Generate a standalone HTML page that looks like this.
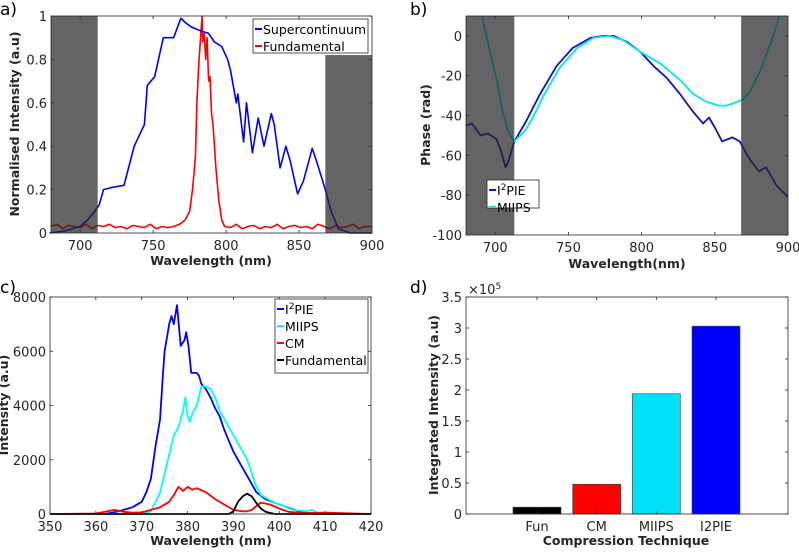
<!DOCTYPE html>
<html><head><meta charset="utf-8">
<style>
html,body{margin:0;padding:0;background:#fff;}
svg{display:block;font-family:"DejaVu Sans","Liberation Sans",sans-serif;}
.tk{font-size:13px;fill:#262626;}
.al{font-size:12.5px;font-weight:bold;fill:#262626;}
.lg{font-size:12.5px;fill:#000;}
.pl{font-size:17px;fill:#000;}
</style></head>
<body>
<svg id="fig" width="799" height="553" viewBox="0 0 799 553"></svg>
<script>
// ---------- Panel a data ----------
const scWl  = [679,690,700,705,710,713,716,722,730,737,744,746,751,757,764,769,772,776,783,788,792,797,801,803,807,808,812,814,818,822,826,831,833,837,841,844,849,853,859,862,868,872,877,885,900];
const scVal = [0,0.01,0.03,0.06,0.1,0.13,0.2,0.21,0.22,0.4,0.5,0.68,0.72,0.9,0.9,0.99,0.97,0.95,0.93,0.92,0.88,0.86,0.8,0.75,0.6,0.64,0.42,0.6,0.37,0.53,0.4,0.55,0.5,0.3,0.4,0.33,0.18,0.24,0.39,0.33,0.2,0.1,0.02,0,0];
const fuWl  = [680,684,688,692,696,700,704,708,712,716,720,724,728,732,736,740,744,748,752,756,760,764,768,772,775,777,779,780,781,782,783,783.5,784,785,786,787,788,789,790,791,793,795,797,799,803,807,811,815,819,823,827,831,835,839,843,847,851,855,859,863,867,871,875,879,883,887,891,895,900];
const fuVal = [0.03,0.04,0.02,0.035,0.03,0.025,0.04,0.02,0.035,0.03,0.04,0.025,0.03,0.02,0.035,0.03,0.025,0.04,0.02,0.03,0.025,0.03,0.04,0.06,0.1,0.2,0.35,0.6,0.75,0.85,0.95,1.0,0.88,0.92,0.8,0.9,0.7,0.72,0.55,0.5,0.3,0.15,0.06,0.03,0.025,0.04,0.02,0.03,0.035,0.02,0.03,0.025,0.04,0.02,0.03,0.035,0.025,0.03,0.02,0.04,0.03,0.02,0.035,0.025,0.03,0.04,0.02,0.03,0.03];
const aXTicks = [700,750,800,850,900];
const aYTicks = [0,0.2,0.4,0.6,0.8,1];
const aYLabels = ["0","0.2","0.4","0.6","0.8","1"];
// ---------- Panel b data ----------
const i2Wl  = [680,684,690,695,701,704,707,709,713,721,730,742,753,765,774,781,790,799,808,817,826,835,842,846,850,855,862,867,873,880,885,892,900];
const i2Val = [-45,-44,-50,-49,-52,-58,-66,-63,-53,-43,-30,-15,-6,-1,0,0,-3,-8,-15,-21,-29,-38,-44,-41,-46,-53,-51,-53,-61,-68,-66,-75,-81];
const miWl  = [691,694,697,701,705,709,712,713,717,721,727,733,744,756,767,778,787,799,813,826,835,844,853,858,862,869,874,878,882,885,889,892,894];
const miVal = [10,0,-10,-22,-38,-48,-52,-53,-50,-47,-39,-30,-16,-6,-1,0,-2,-8,-14,-22,-29,-33,-35,-35,-34,-32,-28,-22,-16,-10,-2,5,10];
const bXTicks = [700,750,800,850,900];
const bYTicks = [0,-20,-40,-60,-80,-100];
// ---------- Panel c data ----------
const cI2Wl  = [350,362,365,368,370,371,372,373,374,374.5,375,376,376.5,377,377.7,378.5,379.3,379.7,380.2,380.8,382,382.5,383,384,385,386,387,388,389,390,391,392,393,394,395,397,400,403,405,408,420];
const cI2Val = [0,0,100,250,450,800,1300,2500,3500,4800,6000,7000,7300,7000,7700,6200,6400,6700,6200,5200,5200,5100,4800,4600,4300,3900,3600,3100,2700,2300,2000,1700,1400,1100,800,550,350,170,60,0,0];
const cMiWl  = [350,370,372,374,375,376,377,378,379,379.5,380,380.5,381,382,383,384,385,386,387,388,389,390,391,392,393,394,395,396,398,400,403,406,407,409,420];
const cMiVal = [0,0,100,800,1500,2200,2900,3200,3800,4300,3600,3400,3700,4000,4700,4700,4600,4300,3800,3500,3200,2900,2600,2300,2000,1500,1000,700,500,350,150,100,150,0,0];
const cCmWl  = [350,360,362,364,366,368,370,372,374,376,377,378,379,380,381,382,384,386,388,390,392,393,394,395,396,398,400,402,405,410,412,420];
const cCmVal = [0,20,80,150,80,50,60,150,250,450,700,1000,850,1000,900,950,800,550,350,150,100,100,150,300,420,350,200,80,30,50,40,0];
const cFuWl  = [350,389,390,391,392,393,394,395,396,397,399,420];
const cFuVal = [0,0,100,450,650,750,650,400,200,80,0,0];
const cXTicks = [350,360,370,380,390,400,410,420];
const cYTicks = [0,2000,4000,6000,8000];
// ---------- Panel d data ----------
const dCats = ["Fun","CM","MIIPS","I2PIE"];
const dVals = [0.11,0.48,1.94,3.03];
const dColors = ["#000000","#ff0000","#00e0f8","#0000ff"];
const dYTicks = [0,0.5,1,1.5,2,2.5,3,3.5];
const dYLabels = ["0","0.5","1","1.5","2","2.5","3","3.5"];

const NS="http://www.w3.org/2000/svg";
const svg=document.getElementById('fig');
function mk(tag,attrs,parent,text){const e=document.createElementNS(NS,tag);for(const k in attrs)e.setAttribute(k,attrs[k]);if(text!==undefined)e.textContent=text;(parent||svg).appendChild(e);return e;}
function scale(d0,d1,r0,r1){return v=>r0+(v-d0)*(r1-r0)/(d1-d0);}

function axes(g,box,xs,ys,xt,xl,yt,yl){
  mk('rect',{x:box.x0,y:box.y0,width:box.x1-box.x0,height:box.y1-box.y0,fill:'none',stroke:'#262626','stroke-width':0.8},g);
  xt.forEach((v,i)=>{const x=xs(v);
    mk('line',{x1:x,x2:x,y1:box.y1,y2:box.y1-3,stroke:'#262626','stroke-width':0.8},g);
    mk('line',{x1:x,x2:x,y1:box.y0,y2:box.y0+3,stroke:'#262626','stroke-width':0.8},g);
    const t=mk('text',{x:x,y:box.y1+17,'text-anchor':'middle',class:'tk'},g,xl[i]);
    
    });
  yt.forEach((v,i)=>{const y=ys(v);
    mk('line',{x1:box.x0,x2:box.x0+3,y1:y,y2:y,stroke:'#262626','stroke-width':0.8},g);
    mk('line',{x1:box.x1,x2:box.x1-3,y1:y,y2:y,stroke:'#262626','stroke-width':0.8},g);
    const t=mk('text',{x:box.x0-4,y:y+5,'text-anchor':'end',class:'tk'},g,yl[i]);
    
    });
}
function line(g,xs,ys,X,Y,color,name,w){
  const d=X.map((x,i)=>(i?'L':'M')+xs(x).toFixed(1)+','+ys(Y[i]).toFixed(1)).join('');
  const p=mk('path',{d:d,fill:'none',stroke:color,'stroke-width':w||1.8,'stroke-linejoin':'round'},g);
  
  
  return p;
}
function legend(g,x,y,w,h,items){
  const r=mk('rect',{x:x,y:y,width:w,height:h,fill:'#fff',stroke:'#262626','stroke-width':0.8},g);
  
  
  items.forEach((it,i)=>{const yy=y+10+i*17;
    mk('line',{x1:x+2,x2:x+9,y1:yy,y2:yy,stroke:it[1],'stroke-width':2},g);
    const t=mk('text',{x:x+10,y:yy+5,class:'lg'},g);
    if(it[0]==='I2PIE'){t.textContent='I';mk('tspan',{dy:-5,'font-size':'9px'},t,'2');mk('tspan',{dy:5},t,'PIE');}
    else t.textContent=it[0];
    
    });
}
function label(g,txt,x,y,rot,name){
  const t=mk('text',{x:x,y:y,'text-anchor':'middle',class:'al',transform:rot?`rotate(-90 ${x} ${y})`:''},g,txt);
  
  
}

// ===== Panel a =====
{const g=mk('g',{});
 const box={x0:51,x1:372,y0:16,y1:233};
 const xs=scale(680,900,box.x0,box.x1), ys=scale(0,1,box.y1,box.y0);
 line(g,xs,ys,fuWl,fuVal,'#ff0000','fundamental-line',1.6);
 line(g,xs,ys,scWl,scVal,'#0000ff','supercontinuum-line',1.6);
 mk('rect',{x:xs(680),y:box.y0,width:xs(712)-xs(680),height:box.y1-box.y0,fill:'rgba(40,40,40,0.72)'},g);
 mk('rect',{x:xs(868),y:ys(0.82),width:xs(900)-xs(868),height:box.y1-ys(0.82),fill:'rgba(40,40,40,0.72)'},g);
 axes(g,box,xs,ys,aXTicks,aXTicks.map(String),aYTicks,aYLabels);
 legend(g,253,19,115,34,[['Supercontinuum','#0000ff'],['Fundamental','#ff0000']]);
 label(g,'Wavelength (nm)',211,265,false,'x-axis-title');
 label(g,'Normalised Intensity (a.u)',19,124,true,'y-axis-title');
 mk('text',{x:0,y:15,class:'pl'},g,'a)');
}
// ===== Panel b =====
{const g=mk('g',{});
 const box={x0:466,x1:788,y0:16,y1:235};
 const xs=scale(680,900,box.x0,box.x1), ys=scale(-100,10,box.y1,box.y0);
 const cl=mk('clipPath',{id:'cb'},g);mk('rect',{x:box.x0,y:box.y0,width:box.x1-box.x0,height:box.y1-box.y0},cl);
 const gg=mk('g',{'clip-path':'url(#cb)'},g);
 line(gg,xs,ys,i2Wl,i2Val,'#1010d0','i2pie-phase-line',1.8);
 line(gg,xs,ys,miWl,miVal,'#00e8f0','miips-phase-line',1.8);
 mk('rect',{x:xs(680),y:box.y0,width:xs(713)-xs(680),height:box.y1-box.y0,fill:'rgba(40,40,40,0.72)'},g);
 mk('rect',{x:xs(868),y:box.y0,width:xs(900)-xs(868),height:box.y1-box.y0,fill:'rgba(40,40,40,0.72)'},g);
 axes(g,box,xs,ys,bXTicks,bXTicks.map(String),bYTicks,bYTicks.map(String));
 legend(g,487,180,52,28,[['I2PIE','#1010d0'],['MIIPS','#00e8f0']]);
 label(g,'Wavelength(nm)',627,268,false,'x-axis-title');
 label(g,'Phase (rad)',430,125,true,'y-axis-title');
 mk('text',{x:410,y:15,class:'pl'},g,'b)');
}
// ===== Panel c =====
{const g=mk('g',{});
 const box={x0:50,x1:371,y0:297,y1:514};
 const xs=scale(350,420,box.x0,box.x1), ys=scale(0,8000,box.y1,box.y0);
 line(g,xs,ys,cI2Wl,cI2Val,'#0000ff','i2pie-shg-line',1.8);
 line(g,xs,ys,cMiWl,cMiVal,'#00ffff','miips-shg-line',1.8);
 line(g,xs,ys,cCmWl,cCmVal,'#ff0000','cm-shg-line',1.8);
 line(g,xs,ys,cFuWl,cFuVal,'#000000','fundamental-shg-line',1.8);
 axes(g,box,xs,ys,cXTicks,cXTicks.map(String),cYTicks,cYTicks.map(String));
 legend(g,275,299,93,74,[['I2PIE','#0000ff'],['MIIPS','#00ffff'],['CM','#ff0000'],['Fundamental','#000000']]);
 label(g,'Wavelength (nm)',211,545,false,'x-axis-title');
 label(g,'Intensity (a.u)',8,405,true,'y-axis-title');
 mk('text',{x:0,y:293,class:'pl'},g,'c)');
}
// ===== Panel d =====
{const g=mk('g',{});
 const box={x0:466,x1:788,y0:297,y1:514};
 const xs=scale(0,3,537,716), ys=scale(0,3.5,box.y1,box.y0);
 dCats.forEach((c,i)=>{const h=box.y1-ys(dVals[i]);
   const b=mk('rect',{x:xs(i)-24,y:ys(dVals[i]),width:48,height:h,fill:dColors[i],stroke:'#444','stroke-width':0.6},g);
   
   });
 axes(g,box,xs,ys,[0,1,2,3],dCats,dYTicks,dYLabels);
 const t=mk('text',{x:468,y:294,class:'tk'},g,'×10');mk('tspan',{dy:-5,'font-size':'9px'},t,'5');
 
 label(g,'Compression Technique',626,545,false,'x-axis-title');
 label(g,'Integrated Intensity (a.u)',438,405,true,'y-axis-title');
 mk('text',{x:410,y:293,class:'pl'},g,'d)');
}
</script>
</body></html>
